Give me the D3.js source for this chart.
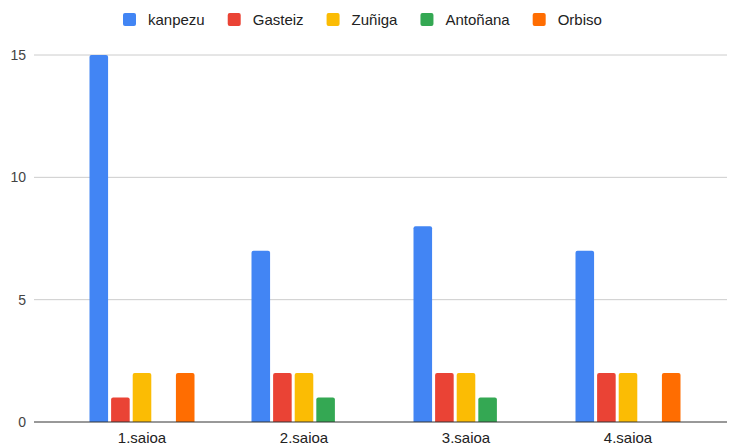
<html>
<script src="https://cdn.jsdelivr.net/npm/d3@7"></script>
<head>
    <meta charset="utf-8">
    <style>
        body {
            margin: 0;
            font-family: Arial, "Liberation Sans", sans-serif;
            background: white;
        }
    </style>
</head>
<body>
    <svg id="chart"></svg>
    <script>
      let groups = ["1.saioa", "2.saioa", "3.saioa", "4.saioa"]
      let series = ["kanpezu", "Gasteiz", "Zuñiga", "Antoñana", "Orbiso"]
      let colors = ["#4285f4", "#ea4335", "#fbbc04", "#34a853", "#ff6d01"]
      let kanpezu = [15, 7, 8, 7]
      let gasteiz = [1, 2, 2, 2]
      let zuniga = [2, 2, 2, 2]
      let antonana = [0, 1, 1, 0]
      let orbiso = [2, 0, 0, 2]
      let yTicks = [0, 5, 10, 15]

      let values = [kanpezu, gasteiz, zuniga, antonana, orbiso]
      let width = 729, height = 445
      let plot = { left: 34, right: 727, top: 55, bottom: 422 }

      let svg = d3.select("#chart").attr("width", width).attr("height", height)

      let yScale = d3.scaleLinear().domain([0, 15]).range([plot.bottom, plot.top])
      let x0 = d3.scaleBand().domain(groups).range([61, 709])
      let x1 = d3.scaleBand().domain(series)
          .range([(x0.bandwidth() - 105) / 2, (x0.bandwidth() + 105) / 2])
          .paddingInner(0.14)

      // gridlines
      svg.append("g").selectAll("line")
          .data(yTicks.filter(d => d > 0))
          .enter().append("line")
          .attr("x1", plot.left).attr("x2", plot.right)
          .attr("y1", d => yScale(d)).attr("y2", d => yScale(d))
          .attr("stroke", "#cccccc").attr("stroke-width", 1)

      // y labels
      svg.append("g").selectAll("text")
          .data(yTicks)
          .enter().append("text")
          .attr("x", 26)
          .attr("y", d => yScale(d) + 5)
          .attr("text-anchor", "end")
          .attr("font-size", 14)
          .attr("fill", "#444")
          .text(d => d)

      // bars
      let table = []
      groups.forEach((g, gi) => {
        series.forEach((s, si) => {
          table.push({ group: g, series: s, value: values[si][gi], color: colors[si] })
        })
      })
      svg.append("g").selectAll("path")
          .data(table.filter(d => d.value > 0))
          .enter().append("path")
          .attr("fill", d => d.color)
          .attr("d", d => {
            let x = x0(d.group) + x1(d.series), w = x1.bandwidth()
            let y = yScale(d.value), b = yScale(0), r = 2
            return `M${x},${b}V${y + r}Q${x},${y} ${x + r},${y}H${x + w - r}Q${x + w},${y} ${x + w},${y + r}V${b}Z`
          })

      // baseline
      svg.append("line")
          .attr("x1", plot.left).attr("x2", plot.right)
          .attr("y1", yScale(0)).attr("y2", yScale(0))
          .attr("stroke", "#333").attr("stroke-width", 1)

      // x labels
      svg.append("g").selectAll("text")
          .data(groups)
          .enter().append("text")
          .attr("x", d => x0(d) + x0.bandwidth() / 2)
          .attr("y", 443)
          .attr("text-anchor", "middle")
          .attr("font-size", 15)
          .attr("fill", "#222")
          .text(d => d)

      // legend
      let legend = svg.append("g")
      let lx = 123
      series.forEach((s, i) => {
        legend.append("rect")
            .attr("x", lx).attr("y", 13)
            .attr("width", 13).attr("height", 13)
            .attr("rx", 2)
            .attr("fill", colors[i])
        let t = legend.append("text")
            .attr("x", lx + 25).attr("y", 25)
            .attr("font-size", 15)
            .attr("fill", "#222")
            .text(s)
        lx += 25 + t.node().getComputedTextLength() + 23
      })
    </script>
</body>
</html>
